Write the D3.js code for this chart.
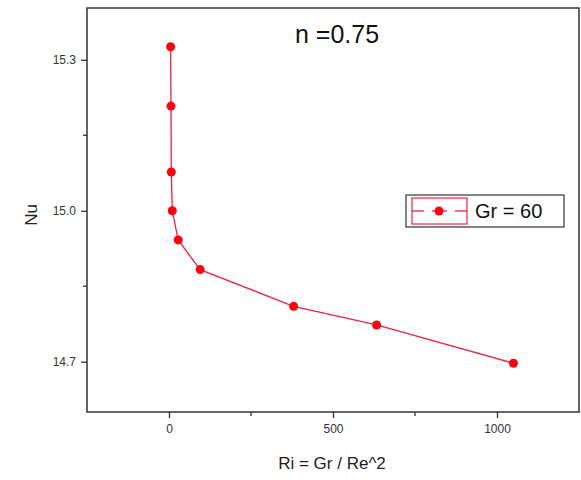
<!DOCTYPE html>
<html>
<head>
<meta charset="utf-8">
<script src="https://cdn.jsdelivr.net/npm/d3@7"></script>
<style>
  body { margin: 0; background: #fff; }
  text { font-family: Arial, "Liberation Sans", sans-serif; }
</style>
</head>
<body>
<div id="chart"></div>
<script>
// Données
const riValues = [5, 6, 7, 10, 28, 95, 380, 633, 1050];
const nuValues = [15.326, 15.208, 15.077, 15.0, 14.942, 14.883, 14.81, 14.773, 14.697];
const xTicks = [0, 500, 1000];
const xMinorTicks = [250, 750];
const yTicks = [14.7, 15.0, 15.3];
const yMinorTicks = [14.85, 15.15];
const seriesName = "Gr = 60";
const title = "n =0.75";

const width = 581, height = 480;
const margin = { top: 8, right: 2, bottom: 68, left: 87 };
const innerW = width - margin.left - margin.right;
const innerH = height - margin.top - margin.bottom;

const svg = d3.select("#chart").append("svg")
    .attr("width", width)
    .attr("height", height);

const g = svg.append("g")
    .attr("transform", `translate(${margin.left},${margin.top})`);

const x = d3.scaleLinear().domain([-250, 1250]).range([0, innerW]);
const y = d3.scaleLinear().domain([14.6, 15.403]).range([innerH, 0]);

// Axes
const xAxis = d3.axisBottom(x).tickValues(xTicks).tickSize(6).tickPadding(6).tickFormat(d3.format("d"));
const yAxis = d3.axisLeft(y).tickValues(yTicks).tickSize(6).tickPadding(5).tickFormat(d3.format(".1f"));

const gx = g.append("g").attr("transform", `translate(0,${innerH})`).call(xAxis);
const gy = g.append("g").call(yAxis);
[gx, gy].forEach(a => {
    a.select(".domain").remove();
    a.selectAll("line").attr("stroke", "#333").attr("stroke-width", 1.3);
    a.selectAll("text").attr("fill", "#333").style("font-size", "12px");
});

g.selectAll(".xminor").data(xMinorTicks).enter().append("line")
    .attr("x1", d => x(d)).attr("x2", d => x(d))
    .attr("y1", innerH).attr("y2", innerH + 4)
    .attr("stroke", "#333").attr("stroke-width", 1.3);
g.selectAll(".yminor").data(yMinorTicks).enter().append("line")
    .attr("x1", 0).attr("x2", -4)
    .attr("y1", d => y(d)).attr("y2", d => y(d))
    .attr("stroke", "#333").attr("stroke-width", 1.3);

// Cadre
g.append("rect")
    .attr("width", innerW).attr("height", innerH)
    .attr("fill", "none").attr("stroke", "#333").attr("stroke-width", 1.5);

// Série
const data = riValues.map((d, i) => ({ ri: d, nu: nuValues[i] }));
const line = d3.line().x(d => x(d.ri)).y(d => y(d.nu));
g.append("path").datum(data)
    .attr("d", line)
    .attr("fill", "none").attr("stroke", "#f02040").attr("stroke-width", 1.3);
g.selectAll(".pt").data(data).enter().append("circle")
    .attr("cx", d => x(d.ri)).attr("cy", d => y(d.nu))
    .attr("r", 4.5).attr("fill", "#ff0010");

// Titres
svg.append("text")
    .attr("x", 337).attr("y", 43)
    .attr("text-anchor", "middle")
    .style("font-size", "25px").attr("fill", "#111")
    .text(title);

svg.append("text")
    .attr("x", 332).attr("y", 469)
    .attr("text-anchor", "middle")
    .style("font-size", "17px").attr("fill", "#222")
    .text("Ri = Gr / Re^2");

svg.append("text")
    .attr("transform", "translate(37,215) rotate(-90)")
    .attr("text-anchor", "middle")
    .style("font-size", "17px").attr("fill", "#222")
    .text("Nu");

// Légende
const legend = svg.append("g").attr("transform", "translate(406,195)");
legend.append("rect").attr("width", 158).attr("height", 32)
    .attr("fill", "#fff").attr("stroke", "#333").attr("stroke-width", 1.2);
legend.append("rect").attr("x", 6).attr("y", 3).attr("width", 55).attr("height", 26)
    .attr("fill", "none").attr("stroke", "#f02040").attr("stroke-width", 1.2);
legend.append("line").attr("x1", 6).attr("x2", 18).attr("y1", 16).attr("y2", 16)
    .attr("stroke", "#f02040").attr("stroke-width", 1.3);
legend.append("line").attr("x1", 49).attr("x2", 61).attr("y1", 16).attr("y2", 16)
    .attr("stroke", "#f02040").attr("stroke-width", 1.3);
legend.append("line").attr("x1", 26).attr("x2", 41).attr("y1", 16).attr("y2", 16)
    .attr("stroke", "#f02040").attr("stroke-width", 1.3);
legend.append("circle").attr("cx", 33).attr("cy", 16).attr("r", 4.5).attr("fill", "#ff0010");
legend.append("text").attr("x", 69).attr("y", 23)
    .style("font-size", "20px").attr("fill", "#111")
    .text(seriesName);
</script>
</body>
</html>
